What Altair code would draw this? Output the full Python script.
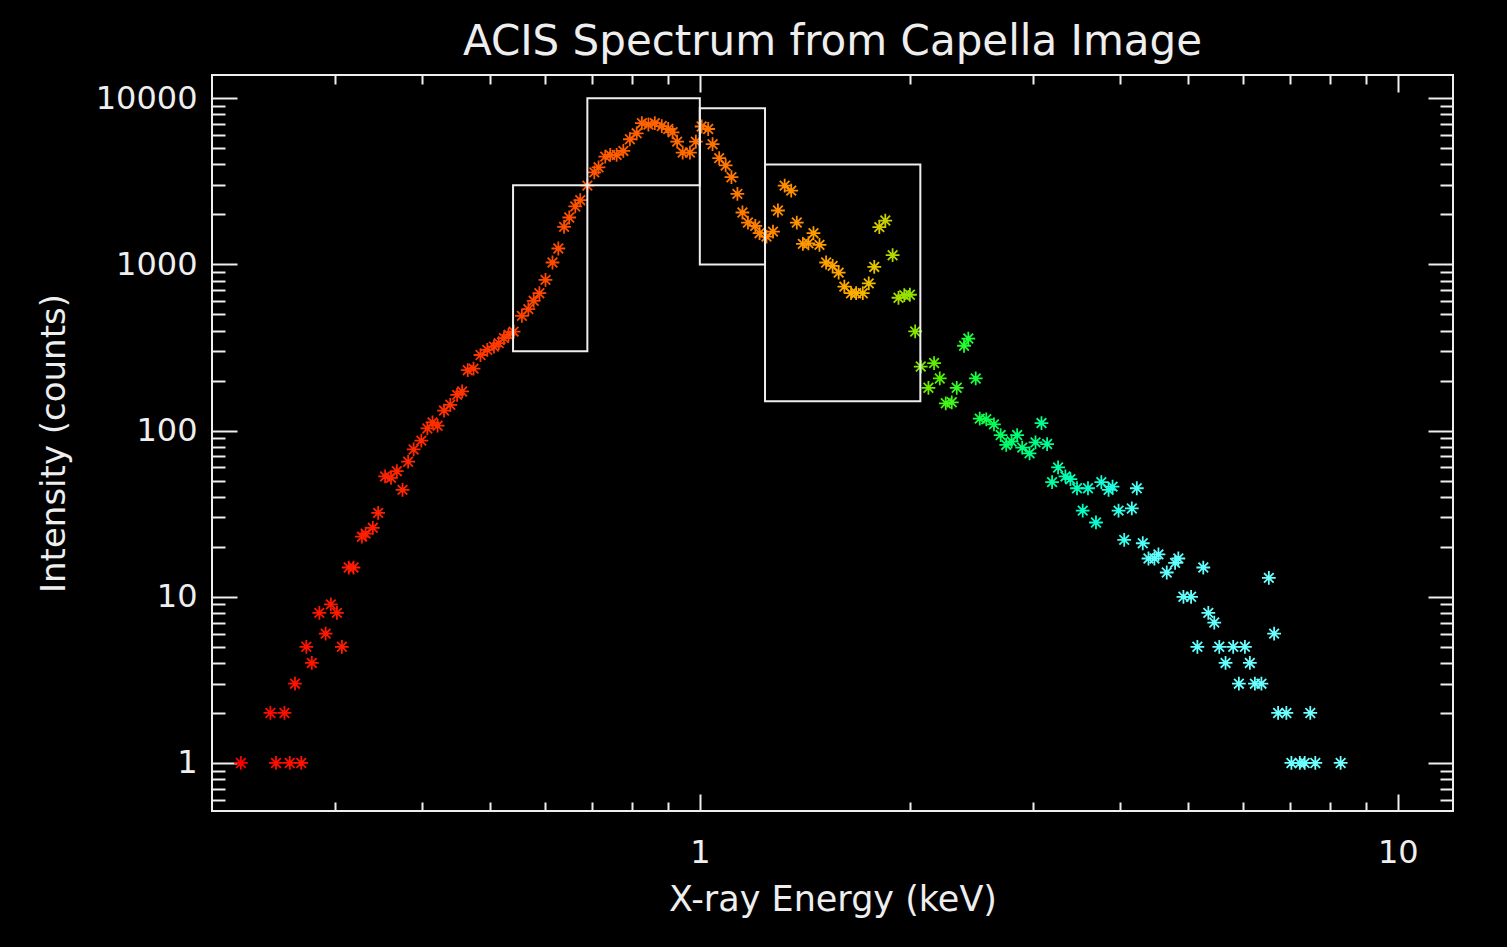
import altair as alt
import pandas as pd

# ---------------- data ----------------
energy = [
    0.220, 0.2425, 0.247, 0.254, 0.2585, 0.263, 0.2685, 0.273, 0.278, 0.285,
    0.291, 0.296, 0.302, 0.307, 0.314, 0.319, 0.328, 0.332, 0.340, 0.346,
    0.354, 0.361, 0.368, 0.375, 0.382, 0.389, 0.399, 0.407, 0.414, 0.421,
    0.430, 0.439, 0.449, 0.4565, 0.465, 0.474, 0.485, 0.496, 0.507, 0.515,
    0.524, 0.532, 0.541, 0.556, 0.568, 0.578, 0.589, 0.601, 0.615, 0.627,
    0.639, 0.650, 0.663, 0.674, 0.690, 0.706, 0.716, 0.732, 0.744, 0.760,
    0.777, 0.794, 0.812, 0.826, 0.844, 0.862, 0.882, 0.901, 0.914, 0.928,
    0.945, 0.968, 0.987, 1.006, 1.028, 1.043, 1.066, 1.089, 1.110, 1.132,
    1.151, 1.172, 1.201, 1.218, 1.246, 1.273, 1.294, 1.323, 1.352, 1.377,
    1.405, 1.431, 1.455, 1.484, 1.517, 1.550, 1.581, 1.611, 1.647, 1.675,
    1.712, 1.746, 1.778, 1.808, 1.844, 1.889, 1.926, 1.963, 2.000, 2.035,
    2.073, 2.126, 2.166, 2.207, 2.251, 2.296, 2.334, 2.391, 2.425, 2.485,
    2.518, 2.573, 2.639, 2.698, 2.748, 2.797, 2.849, 2.897, 2.968, 3.027,
    3.087, 3.145, 3.197, 3.261, 3.341, 3.396, 3.471, 3.537, 3.599, 3.695,
    3.761, 3.852, 3.903, 3.981, 4.056, 4.159, 4.228, 4.312, 4.394, 4.481,
    4.541, 4.667, 4.797, 4.849, 4.931, 5.057, 5.163, 5.265, 5.353, 5.459,
    5.550, 5.666, 5.811, 5.921, 6.040, 6.139, 6.242, 6.378, 6.536, 6.651,
    6.739, 6.925, 7.041, 7.238, 7.357, 7.494, 7.619, 8.283,
]
counts = [
    1, 2, 1, 2, 1, 3, 1, 5, 4, 8,
    6, 9, 8, 5, 15, 15, 23, 24, 26, 32,
    53, 52, 57, 44, 65, 77, 87, 103, 112, 107,
    132, 143, 164, 172, 231, 236, 285, 306, 320, 336,
    360, 377, 394, 490, 538, 604, 671, 807, 1027, 1247,
    1683, 1916, 2233, 2436, 2980, 3580, 3840, 4455, 4560, 4560,
    4820, 5666, 6150, 7080, 6950, 7080, 6800, 6530, 6240, 5480,
    4710, 4710, 5480, 6760, 6530, 5290, 4360, 3940, 3348, 2658,
    2053, 1787, 1706, 1542, 1470, 1575, 2111, 2980, 2780, 1787,
    1329, 1340, 1542, 1311, 1027, 980, 893, 735, 671, 671,
    671, 769, 966, 1677, 1837, 1136, 630, 653, 657, 395,
    243, 181, 255, 206, 146, 148, 181, 324, 358, 206,
    118, 117, 109, 94, 82, 86, 94, 79, 73, 85,
    111, 83, 49, 60, 53, 51, 45, 33, 45, 28,
    49, 44, 46, 33, 22, 34, 45, 21, 17, 17,
    18, 14, 16, 17, 10, 10, 5, 15, 8, 7,
    5, 4, 5, 3, 5, 4, 3, 3, 13, 6,
    2, 2, 1, 1, 1, 2, 1, 1,
]

# selection boxes (energy range, count range)
box_x1 = [0.54, 0.69, 1.0, 1.24]
box_x2 = [0.69, 1.0, 1.24, 2.07]
box_y1 = [300, 3000, 1000, 150]
box_y2 = [3000, 10000, 8700, 4000]

# axis ticks
x_major = [1, 10]
x_minor = [0.3, 0.4, 0.5, 0.6, 0.7, 0.8, 0.9, 2, 3, 4, 5, 6, 7, 8, 9]
y_major = [1, 10, 100, 1000, 10000]
y_minor = [0.6, 0.7, 0.8, 0.9,
           2, 3, 4, 5, 6, 7, 8, 9,
           20, 30, 40, 50, 60, 70, 80, 90,
           200, 300, 400, 500, 600, 700, 800, 900,
           2000, 3000, 4000, 5000, 6000, 7000, 8000, 9000]

# colour table (energy -> colour)
color_stops = [0.22, 0.35, 0.5, 0.7, 0.95, 1.2, 1.45, 1.7, 1.8, 1.9, 2.05,
               2.2, 2.4, 2.7, 3.1, 3.5, 4.0, 4.5, 8.3]
color_values = ["#ff0000", "#ff2000", "#ff3800", "#ff5500", "#ff6a00",
                "#ff8000", "#ff9a00", "#ffb000", "#d8c800", "#b0d800",
                "#80e800", "#50f000", "#20ff30", "#00ff60", "#00ff90",
                "#00ffc0", "#30ffe8", "#60ffff", "#70ffff"]

X_DOMAIN = [0.2, 12]
Y_DOMAIN = [0.514, 13800]
FG = "#eeeeee"
FONT = "DejaVu Sans"

spec_df = pd.DataFrame({"energy": energy, "counts": counts})
box_df = pd.DataFrame({"x1": box_x1, "x2": box_x2, "y1": box_y1, "y2": box_y2})

xs = alt.Scale(type="log", domain=X_DOMAIN, nice=False)
ys = alt.Scale(type="log", domain=Y_DOMAIN, nice=False)


def tick_axis(orient, values, size):
    return alt.Axis(orient=orient, values=values, tickSize=size, offset=-size,
                    labels=False, title=None, domain=False, grid=False,
                    tickColor=FG, tickWidth=2)


asterisk = "M-1,0L1,0M0,-1L0,1M-0.7,-0.7L0.7,0.7M-0.7,0.7L0.7,-0.7"

points = alt.Chart(spec_df).mark_point(
    shape=asterisk, filled=False, size=190, strokeWidth=1.8, opacity=1
).encode(
    x=alt.X("energy:Q", scale=xs, axis=alt.Axis(
        orient="bottom", values=x_major, tickSize=17, offset=-17, format="d",
        domain=False, grid=False, tickColor=FG, tickWidth=2,
        labelColor=FG, labelFont=FONT, labelFontSize=32, labelPadding=26,
        title="X-ray Energy (keV)", titleColor=FG, titleFont=FONT,
        titleFontSize=35, titleFontWeight="normal", titleY=116,
        titleBaseline="alphabetic")),
    y=alt.Y("counts:Q", scale=ys, axis=alt.Axis(
        orient="left", values=y_major, tickSize=25, offset=-25, format="d",
        domain=False, grid=False, tickColor=FG, tickWidth=2,
        labelColor=FG, labelFont=FONT, labelFontSize=32, labelPadding=15,
        title="Intensity (counts)", titleColor=FG, titleFont=FONT,
        titleFontSize=34, titleFontWeight="normal", titleX=-173,
        titleBaseline="alphabetic")),
    color=alt.Color("energy:Q", scale=alt.Scale(
        type="log", domain=color_stops, range=color_values), legend=None),
)

boxes = alt.Chart(box_df).mark_rect(
    filled=False, stroke=FG, strokeWidth=2
).encode(
    x=alt.X("x1:Q", scale=xs, axis=tick_axis("bottom", x_minor, 9)),
    x2="x2:Q",
    y=alt.Y("y1:Q", scale=ys, axis=tick_axis("left", y_minor, 13)),
    y2="y2:Q",
)

tr_major = alt.Chart(spec_df).mark_point(opacity=0).encode(
    x=alt.X("energy:Q", scale=xs, axis=tick_axis("top", x_major, 17)),
    y=alt.Y("counts:Q", scale=ys, axis=tick_axis("right", y_major, 25)),
)

tr_minor = alt.Chart(spec_df).mark_point(opacity=0).encode(
    x=alt.X("energy:Q", scale=xs, axis=tick_axis("top", x_minor, 9)),
    y=alt.Y("counts:Q", scale=ys, axis=tick_axis("right", y_minor, 13)),
)

chart = alt.layer(points, boxes, tr_major, tr_minor).resolve_axis(
    x="independent", y="independent"
).properties(
    width=1241, height=736,
    padding={"left": 212, "top": 75, "right": 54, "bottom": 136},
    autosize=alt.AutoSizeParams(type="none"),
    title=alt.TitleParams("ACIS Spectrum from Capella Image", font=FONT,
                          fontSize=42, fontWeight="normal", color=FG,
                          anchor="middle", frame="group",
                          baseline="alphabetic", offset=-23),
    background="black",
).configure_view(stroke=FG, strokeWidth=2)

chart.save("out.html", embed_options={"renderer": "svg", "actions": False})
